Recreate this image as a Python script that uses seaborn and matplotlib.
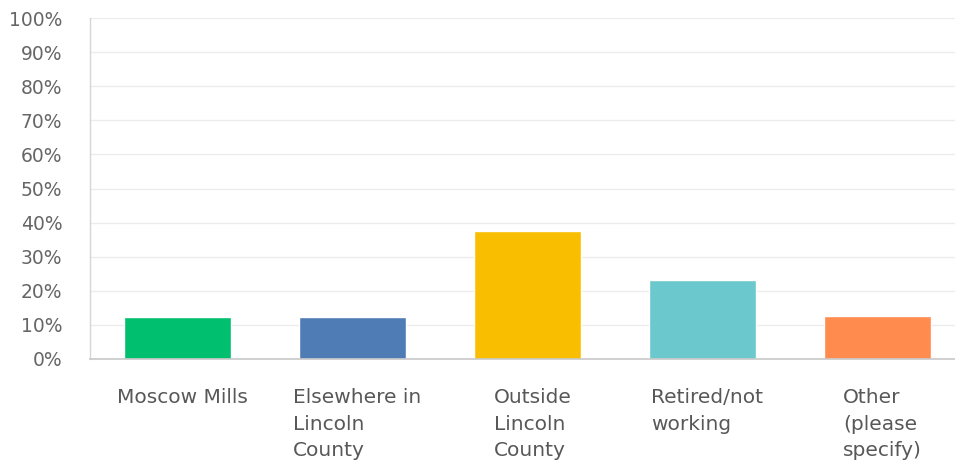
import matplotlib
matplotlib.use("Agg")
import matplotlib.pyplot as plt
import matplotlib.transforms as mtransforms
import seaborn as sns
import pandas as pd

categories = [
    "Moscow Mills",
    "Elsewhere in\nLincoln\nCounty",
    "Outside\nLincoln\nCounty",
    "Retired/not\nworking",
    "Other\n(please\nspecify)",
]
percent = [12.2, 12.2, 37.4, 23.3, 12.7]
colors = ["#00BF6F", "#507CB6", "#F9BE00", "#6BC8CD", "#FF8B4F"]
y_ticks = list(range(0, 101, 10))

sns.set_theme(style="white")
plt.rcParams["font.family"] = ["DejaVu Sans"]

df = pd.DataFrame({"category": categories, "percent": percent})

fig = plt.figure(figsize=(9.55, 4.66), dpi=100)
ax = fig.add_axes([90 / 955, 107 / 466, 1 - 90 / 955, (359.3 - 18.3) / 466])

sns.barplot(
    data=df, x="category", y="percent", hue="category",
    palette=dict(zip(categories, colors)), legend=False,
    width=0.61, saturation=1, ax=ax,
)

ax.set_xlim(-0.5, 4.443)
ax.set_ylim(0, 100)
ax.set_yticks(y_ticks)
ax.set_yticklabels([f"{v}%" for v in y_ticks])
ax.yaxis.grid(True, color="#ececec", linewidth=1)
ax.set_axisbelow(True)
ax.set_xlabel("")
ax.set_ylabel("")

for side in ["top", "right"]:
    ax.spines[side].set_visible(False)
ax.spines["left"].set_color("#d6d6d6")
ax.spines["bottom"].set_color("#c8c8c8")
ax.spines["left"].set_linewidth(1)
ax.spines["bottom"].set_linewidth(1.2)

ax.tick_params(axis="y", length=0, pad=20, labelsize=13.5, labelcolor="#666666")
ax.tick_params(axis="x", length=0, pad=21, labelsize=14.5, labelcolor="#585858")

# nudge category labels slightly to the right of the bar centres
shift = mtransforms.ScaledTranslation(5 / 100, 0, fig.dpi_scale_trans)
for lbl in ax.get_xticklabels():
    lbl.set_linespacing(1.5)
    lbl.set_multialignment("left")
    lbl.set_verticalalignment("top")
    lbl.set_transform(lbl.get_transform() + shift)

fig.savefig("out.png", dpi=100, facecolor="white")
